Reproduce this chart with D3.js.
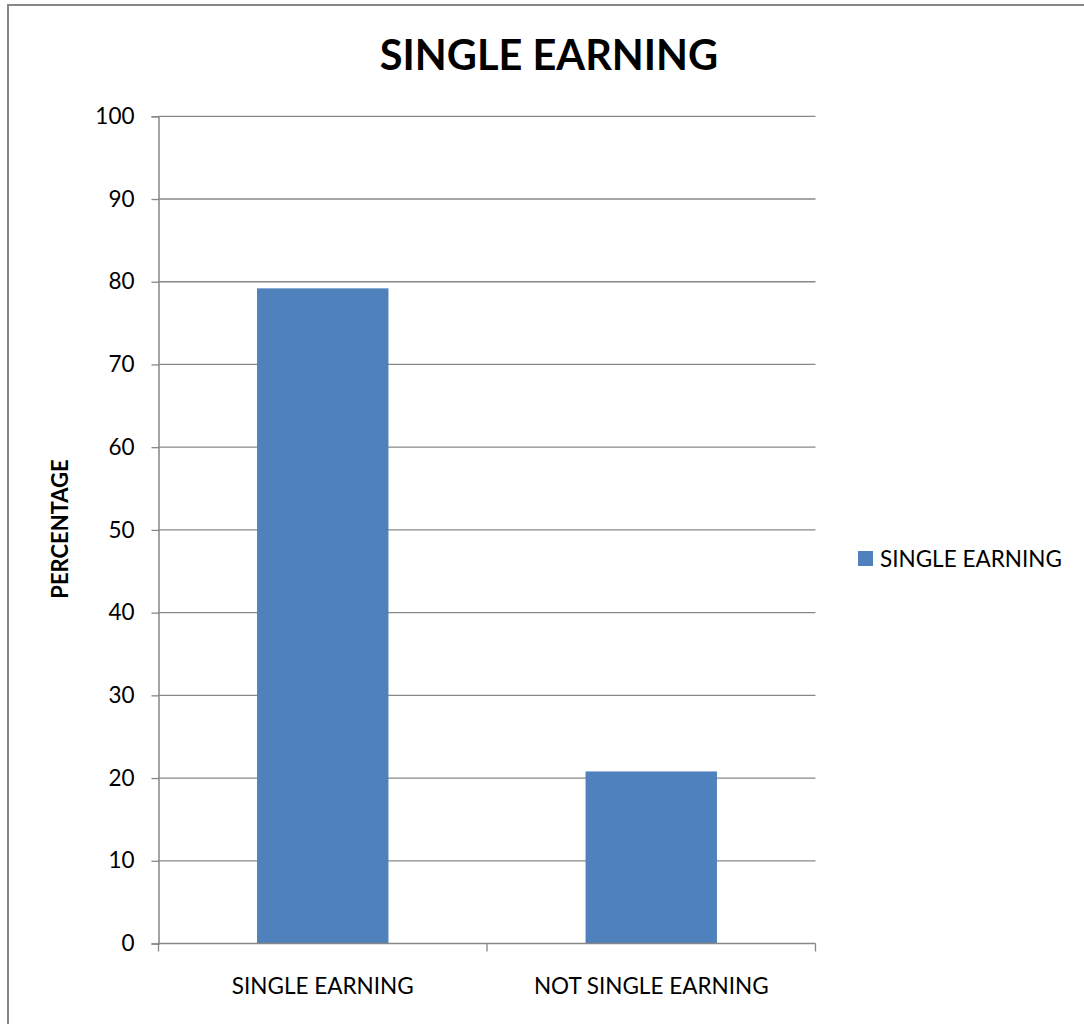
<!DOCTYPE html>
<html>
<head>
<meta charset="utf-8">
<script src="https://cdn.jsdelivr.net/npm/d3@7"></script>
<style>
  html, body { margin: 0; padding: 0; background: #fff; }
  svg { display: block; }
</style>
</head>
<body>
<script>
// Share of households: single earning vs not single earning
const categories = ["SINGLE EARNING", "NOT SINGLE EARNING"];
const values = [79.2, 20.8];
const seriesName = "SINGLE EARNING";
const yTicks = [0, 10, 20, 30, 40, 50, 60, 70, 80, 90, 100];

const W = 1084, H = 1024;
const font = "Lato, 'Open Sans', sans-serif";
const gray = "#878787";
const barColor = "#4f81bd";

const svg = d3.select("body").append("svg").attr("width", W).attr("height", H);

// outer frame
svg.append("rect").attr("x", 8).attr("y", 5).attr("width", W).attr("height", H)
  .attr("fill", "#fff").attr("stroke", gray).attr("stroke-width", 2);

const plot = { left: 158.5, right: 815.5, top: 116.3, bottom: 943.5 };

const x = d3.scaleBand().domain(categories).range([plot.left, plot.right]).paddingInner(0.6).paddingOuter(0.3);
const y = d3.scaleLinear().domain([0, 100]).range([plot.bottom, plot.top]);

// gridlines
svg.append("g").selectAll("line").data(yTicks.filter(d => d > 0)).join("line")
  .attr("x1", plot.left).attr("x2", plot.right)
  .attr("y1", d => y(d)).attr("y2", d => y(d))
  .attr("stroke", gray).attr("stroke-width", 1.3);

// bars
svg.append("g").selectAll("rect").data(values).join("rect")
  .attr("x", (d, i) => x(categories[i]))
  .attr("width", x.bandwidth())
  .attr("y", d => y(d))
  .attr("height", d => y(0) - y(d))
  .attr("fill", barColor);

// y axis
const yAxis = svg.append("g").attr("transform", `translate(${plot.left},0)`)
  .call(d3.axisLeft(y).tickValues(yTicks).tickSize(7).tickPadding(17).tickFormat(d3.format("d")));
yAxis.select(".domain").attr("stroke", gray).attr("stroke-width", 1.5);
yAxis.selectAll(".tick line").attr("stroke", gray).attr("stroke-width", 1.3);
yAxis.selectAll(".tick text").attr("font-family", font).attr("font-size", 22.5).attr("fill", "#000");

// x axis: ticks at the category boundaries
const bounds = [plot.left, (plot.left + plot.right) / 2, plot.right];
const xAxis = svg.append("g");
xAxis.append("line").attr("x1", plot.left).attr("x2", plot.right)
  .attr("y1", plot.bottom).attr("y2", plot.bottom).attr("stroke", gray).attr("stroke-width", 1.5);
xAxis.selectAll("line.tk").data(bounds).join("line").attr("class", "tk")
  .attr("x1", d => d).attr("x2", d => d).attr("y1", plot.bottom).attr("y2", plot.bottom + 8)
  .attr("stroke", gray).attr("stroke-width", 1.3);
xAxis.selectAll("text").data(categories).join("text")
  .attr("x", d => x(d) + x.bandwidth() / 2).attr("y", 994)
  .attr("text-anchor", "middle").attr("font-family", font).attr("font-size", 22.5).attr("fill", "#000")
  .text(d => d);

// title
svg.append("text").attr("x", 549).attr("y", 70).attr("text-anchor", "middle")
  .attr("font-family", font).attr("font-weight", "bold").attr("font-size", 41.5).attr("fill", "#000")
  .text(seriesName);

// y axis label
svg.append("text").attr("transform", "translate(68,529) rotate(-90)").attr("text-anchor", "middle")
  .attr("font-family", font).attr("font-weight", "bold").attr("font-size", 22).attr("fill", "#000")
  .text("PERCENTAGE");

// legend
const lg = svg.append("g").attr("transform", "translate(858,551)");
lg.append("rect").attr("width", 15).attr("height", 15).attr("fill", barColor);
lg.append("text").attr("x", 22).attr("y", 15.5).attr("font-family", font).attr("font-size", 22.5).attr("fill", "#000")
  .text(seriesName);
</script>
</body>
</html>
